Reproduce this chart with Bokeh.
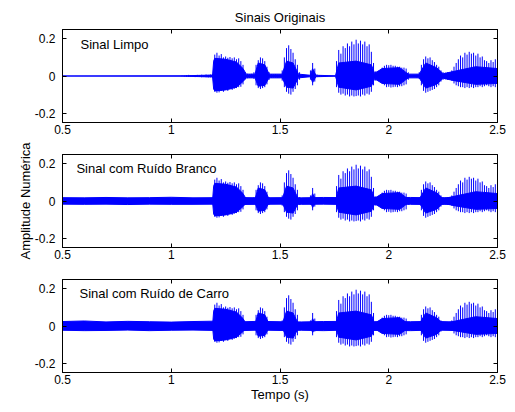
import numpy as np
from bokeh.plotting import figure
from bokeh.models import Range1d, LinearAxis, FixedTicker, Label
from bokeh.layouts import column
from bokeh.embed import file_html
from bokeh.resources import INLINE

# ---------------- data ----------------
title_text = "Sinais Originais"
panel_names = ["Sinal Limpo", "Sinal com Ruído Branco", "Sinal com Ruído de Carro"]
x_ticks = [0.5, 1, 1.5, 2, 2.5]
x_tick_labels = ["0.5", "1", "1.5", "2", "2.5"]
y_ticks = [-0.2, 0, 0.2]
y_tick_labels = ["-0.2", "0", "0.2"]

# speech peaks, sampled every 10 ms from 1.05 s to 2.50 s
spk_t = [round(1.05 + 0.01 * i, 2) for i in range(146)]
spk_top = [
    0.003, 0.002, 0.004, 0.006, 0.004, 0.003, 0.005, 0.006, 0.004, 0.007, 0.005, 0.008, 0.006, 0.008,
    0.010, 0.115, 0.125, 0.110, 0.118, 0.100, 0.105, 0.098, 0.102, 0.095,
    0.100, 0.090, 0.095, 0.080, 0.060, 0.020, 0.012, 0.010, 0.012, 0.020,
    0.060, 0.085, 0.100, 0.095, 0.080, 0.050, 0.020, 0.010, 0.008, 0.010,
    0.008, 0.010, 0.030, 0.100, 0.150, 0.165, 0.145, 0.125, 0.090, 0.060,
    0.020, 0.006, 0.005, 0.005, 0.005, 0.030, 0.070, 0.040, 0.008, 0.005,
    0.004, 0.004, 0.003, 0.001, 0.001, 0.001, 0.001, 0.080, 0.140, 0.120,
    0.160, 0.150, 0.175, 0.160, 0.185, 0.170, 0.195, 0.175, 0.190, 0.170,
    0.185, 0.160, 0.170, 0.130, 0.070, 0.025, 0.020, 0.025, 0.045, 0.055,
    0.060, 0.058, 0.060, 0.055, 0.055, 0.050, 0.050, 0.045, 0.045, 0.040,
    0.020, 0.006, 0.005, 0.005, 0.008, 0.020, 0.060, 0.090, 0.105, 0.095,
    0.100, 0.085, 0.075, 0.060, 0.050, 0.030, 0.020, 0.018, 0.020, 0.020,
    0.030, 0.050, 0.070, 0.090, 0.110, 0.100, 0.125, 0.115, 0.130, 0.120,
    0.125, 0.110, 0.120, 0.100, 0.105, 0.085, 0.080, 0.070, 0.085, 0.075,
    0.090, 0.060,
]
spk_bot = [
    -0.002, -0.003, -0.004, -0.005, -0.004, -0.004, -0.006, -0.005, -0.005, -0.007, -0.006, -0.007, -0.008, -0.007,
    -0.010, -0.085, -0.090, -0.088, -0.080, -0.085, -0.075, -0.080, -0.072, -0.075,
    -0.068, -0.065, -0.060, -0.058, -0.045, -0.018, -0.012, -0.010, -0.010, -0.015,
    -0.050, -0.065, -0.070, -0.065, -0.060, -0.045, -0.020, -0.010, -0.008, -0.008,
    -0.010, -0.008, -0.025, -0.060, -0.085, -0.095, -0.100, -0.085, -0.070, -0.050,
    -0.020, -0.006, -0.005, -0.004, -0.005, -0.020, -0.050, -0.030, -0.006, -0.005,
    -0.004, -0.004, -0.003, -0.001, -0.001, -0.001, -0.001, -0.060, -0.090, -0.100,
    -0.095, -0.105, -0.100, -0.110, -0.105, -0.110, -0.108, -0.105, -0.110, -0.100,
    -0.105, -0.095, -0.100, -0.085, -0.050, -0.025, -0.020, -0.022, -0.040, -0.050,
    -0.060, -0.058, -0.062, -0.060, -0.058, -0.060, -0.055, -0.055, -0.050, -0.045,
    -0.020, -0.006, -0.005, -0.005, -0.008, -0.015, -0.050, -0.080, -0.090, -0.085,
    -0.080, -0.075, -0.070, -0.060, -0.050, -0.030, -0.020, -0.018, -0.020, -0.018,
    -0.025, -0.040, -0.050, -0.055, -0.060, -0.060, -0.065, -0.060, -0.065, -0.060,
    -0.065, -0.060, -0.060, -0.055, -0.060, -0.055, -0.050, -0.055, -0.060, -0.055,
    -0.060, -0.050,
]

# dense core of the speech signal
core_t = [0.5, 1.05, 1.19, 1.195, 1.20, 1.25, 1.30, 1.33, 1.345, 1.385, 1.40, 1.43, 1.45, 1.51,
          1.53, 1.56, 1.585, 1.64, 1.65, 1.665, 1.755, 1.77, 1.85, 1.92, 1.935, 1.97, 2.05, 2.09,
          2.14, 2.17, 2.22, 2.25, 2.30, 2.40, 2.50]
core_top = [0, 0.001, 0.005, 0.08, 0.095, 0.09, 0.075, 0.04, 0.01, 0.01, 0.07, 0.06, 0.01, 0.01,
            0.08, 0.07, 0.01, 0.004, 0.04, 0.004, 0.001, 0.07, 0.08, 0.06, 0.015, 0.04, 0.045, 0.01,
            0.01, 0.07, 0.045, 0.012, 0.025, 0.05, 0.04]
core_bot = [0, -0.001, -0.005, -0.07, -0.08, -0.075, -0.06, -0.03, -0.01, -0.01, -0.055, -0.05, -0.01, -0.01,
            -0.06, -0.065, -0.01, -0.004, -0.035, -0.004, -0.001, -0.06, -0.075, -0.055, -0.015, -0.04, -0.045, -0.01,
            -0.01, -0.065, -0.045, -0.012, -0.025, -0.045, -0.04]

# noise floors, every 100 ms
noise_t = [round(0.5 + 0.1 * i, 1) for i in range(21)]
white_top = [0.018, 0.017, 0.019, 0.017, 0.018, 0.020, 0.017, 0.018, 0.019, 0.017, 0.018,
             0.017, 0.019, 0.018, 0.017, 0.018, 0.019, 0.017, 0.018, 0.017, 0.018]
white_bot = [-0.017, -0.018, -0.017, -0.019, -0.017, -0.018, -0.018, -0.017, -0.019, -0.018, -0.017,
             -0.018, -0.017, -0.019, -0.018, -0.017, -0.018, -0.019, -0.017, -0.018, -0.017]
car_top = [0.024, 0.027, 0.022, 0.025, 0.023, 0.021, 0.024, 0.026, 0.022, 0.025, 0.023,
           0.022, 0.024, 0.025, 0.022, 0.024, 0.023, 0.025, 0.022, 0.024, 0.023]
car_bot = [-0.023, -0.025, -0.024, -0.022, -0.025, -0.023, -0.022, -0.024, -0.026, -0.022, -0.024,
           -0.023, -0.025, -0.022, -0.024, -0.023, -0.025, -0.022, -0.024, -0.023, -0.024]

assert len(spk_t) == len(spk_top) == len(spk_bot)
assert len(core_t) == len(core_top) == len(core_bot)

# ---------------- styling ----------------
BLUE = "#0000ff"
FONT = "Liberation Sans"


def style_axis(ax, ticks, labels, show_labels, standoff):
    ax.ticker = FixedTicker(ticks=ticks)
    ax.major_tick_in = 4
    ax.major_tick_out = 0
    ax.minor_tick_in = 0
    ax.minor_tick_out = 0
    ax.major_tick_line_color = "black"
    ax.axis_line_color = "black"
    if show_labels:
        ax.major_label_overrides = dict(zip(ticks, labels))
        ax.major_label_text_font = FONT
        ax.major_label_text_font_size = "12px"
        ax.major_label_text_color = "black"
        ax.major_label_standoff = standoff
    else:
        ax.major_label_overrides = {t: "" for t in ticks}
        ax.major_label_text_font_size = "0px"
        ax.major_label_standoff = 0


def make_panel(height, top, bottom, name, lx, ly, noise=None, title=None, xlabel=None, ylabel=None):
    p = figure(width=513, height=height, x_range=Range1d(0.5, 2.5), y_range=Range1d(-0.25, 0.25),
               output_backend="svg", toolbar_location=None,
               min_border_left=62, min_border_right=16, min_border_top=top, min_border_bottom=bottom,
               outline_line_color="black", outline_line_width=1,
               background_fill_color="white", border_fill_color="white")
    p.xgrid.visible = False
    p.ygrid.visible = False
    bottom_ax = p.xaxis[0]
    left_ax = p.yaxis[0]
    style_axis(bottom_ax, x_ticks, x_tick_labels, True, 2)
    style_axis(left_ax, y_ticks, y_tick_labels, True, 7)
    top_ax = LinearAxis()
    style_axis(top_ax, x_ticks, x_tick_labels, False, 0)
    right_ax = LinearAxis()
    style_axis(right_ax, y_ticks, y_tick_labels, False, 0)
    p.add_layout(top_ax, "above")
    p.add_layout(right_ax, "right")

    if title:
        p.title.text = title
        p.title.align = "center"
        p.title.text_font = FONT
        p.title.text_font_size = "13px"
        p.title.text_font_style = "normal"
        p.title.text_color = "black"
        p.title.standoff = 10
    if xlabel:
        bottom_ax.axis_label = xlabel
        bottom_ax.axis_label_text_font = FONT
        bottom_ax.axis_label_text_font_size = "13px"
        bottom_ax.axis_label_text_font_style = "normal"
        bottom_ax.axis_label_text_color = "black"
        bottom_ax.axis_label_standoff = 0
    if ylabel:
        left_ax.axis_label = ylabel
        left_ax.axis_label_text_font = FONT
        left_ax.axis_label_text_font_size = "13px"
        left_ax.axis_label_text_font_style = "normal"
        left_ax.axis_label_text_color = "black"
        left_ax.axis_label_standoff = -1

    if noise is not None:
        nt, ntop, nbot = noise
        p.varea(x=nt, y1=nbot, y2=ntop, fill_color=BLUE)
        p.line(nt, ntop, line_color=BLUE, line_width=1)
        p.line(nt, nbot, line_color=BLUE, line_width=1)
    p.varea(x=core_t, y1=core_bot, y2=core_top, fill_color=BLUE)
    p.line(core_t, core_top, line_color=BLUE, line_width=1)
    p.line(core_t, core_bot, line_color=BLUE, line_width=1)
    p.segment(x0=spk_t, y0=spk_bot, x1=spk_t, y1=spk_top, line_color=BLUE, line_width=1)

    p.add_layout(Label(x=lx, y=ly, text=name, text_font=FONT, text_font_size="13px",
                       text_baseline="middle", text_color="black"))
    return p


# page has no margin: frames at x 62..497, y 29..122, 154..247, 279..372
p1 = make_panel(142, 29, 20, panel_names[0], 0.583, 0.172, title=title_text)
p2 = make_panel(125, 12, 20, panel_names[1], 0.564, 0.176,
                noise=(noise_t, white_top, white_bot), ylabel="Amplitude Numérica")
p3 = make_panel(143, 12, 38, panel_names[2], 0.578, 0.174,
                noise=(noise_t, car_top, car_bot), xlabel="Tempo (s)")

layout = column(p1, p2, p3, spacing=0)
open("out.html", "w").write(file_html(layout, INLINE))
